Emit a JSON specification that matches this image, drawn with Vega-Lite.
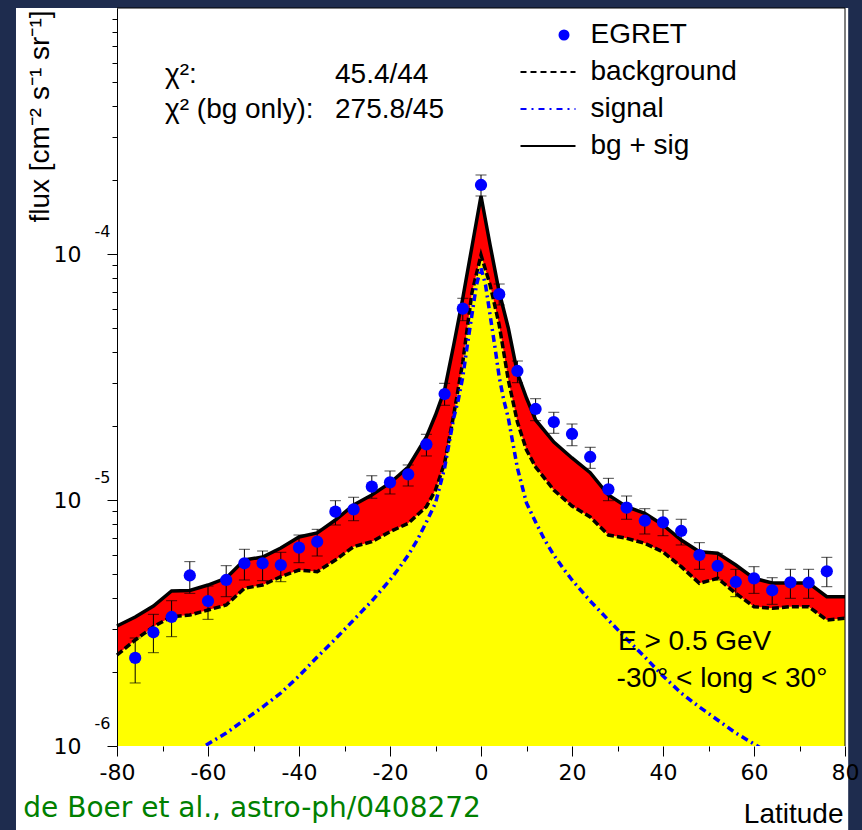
{
  "$schema": "https://vega.github.io/schema/vega-lite/v6.json",
  "width": 728,
  "height": 738,
  "autosize": "none",
  "padding": {"left": 117, "top": 8, "right": 17, "bottom": 84},
  "background": "#1e2c4e",
  "config": {
    "view": {"stroke": null},
    "font": "Liberation Sans",
    "legend": {
      "title": null, "orient": "none", "legendX": 402.5, "legendY": 12,
      "padding": 0, "labelFont": "Liberation Sans", "labelFontSize": 28, "labelColor": "black",
      "labelOffset": 43, "labelLimit": 400, "rowPadding": 7, "clipHeight": 30,
      "symbolSize": 3025, "symbolStrokeWidth": 2, "zindex": 1
    }
  },
  "datasets": {
    "egret": [
      {"lat": -76, "flux": 2.28e-6, "lo": 1.804e-6, "hi": 2.748e-6},
      {"lat": -72, "flux": 2.899e-6, "lo": 2.395e-6, "hi": 3.43e-6},
      {"lat": -68, "flux": 3.345e-6, "lo": 2.782e-6, "hi": 3.896e-6},
      {"lat": -64, "flux": 4.933e-6, "lo": 4.174e-6, "hi": 5.616e-6},
      {"lat": -60, "flux": 3.885e-6, "lo": 3.273e-6, "hi": 4.47e-6},
      {"lat": -56, "flux": 4.73e-6, "lo": 4.045e-6, "hi": 5.408e-6},
      {"lat": -52, "flux": 5.53e-6, "lo": 4.73e-6, "hi": 6.304e-6},
      {"lat": -48, "flux": 5.53e-6, "lo": 4.699e-6, "hi": 6.204e-6},
      {"lat": -44, "flux": 5.44e-6, "lo": 4.655e-6, "hi": 6.13e-6},
      {"lat": -40, "flux": 6.4e-6, "lo": 5.561e-6, "hi": 7.206e-6},
      {"lat": -36, "flux": 6.768e-6, "lo": 5.92e-6, "hi": 7.6e-6},
      {"lat": -32, "flux": 8.964e-6, "lo": 7.914e-6, "hi": 9.935e-6},
      {"lat": -28, "flux": 9.166e-6, "lo": 8.238e-6, "hi": 1.026e-5},
      {"lat": -24, "flux": 1.133e-5, "lo": 1.016e-5, "hi": 1.255e-5},
      {"lat": -20, "flux": 1.18e-5, "lo": 1.058e-5, "hi": 1.312e-5},
      {"lat": -16, "flux": 1.272e-5, "lo": 1.14e-5, "hi": 1.388e-5},
      {"lat": -12, "flux": 1.684e-5, "lo": 1.51e-5, "hi": 1.85e-5},
      {"lat": -8, "flux": 2.697e-5, "lo": 2.427e-5, "hi": 2.981e-5},
      {"lat": -4, "flux": 5.995e-5, "lo": 5.357e-5, "hi": 6.607e-5},
      {"lat": 0, "flux": 1.908e-4, "lo": 1.721e-4, "hi": 2.095e-4},
      {"lat": 4, "flux": 6.866e-5, "lo": 6.205e-5, "hi": 7.551e-5},
      {"lat": 8, "flux": 3.345e-5, "lo": 2.998e-5, "hi": 3.673e-5},
      {"lat": 12, "flux": 2.344e-5, "lo": 2.101e-5, "hi": 2.581e-5},
      {"lat": 16, "flux": 2.075e-5, "lo": 1.867e-5, "hi": 2.273e-5},
      {"lat": 20, "flux": 1.855e-5, "lo": 1.662e-5, "hi": 2.037e-5},
      {"lat": 24, "flux": 1.496e-5, "lo": 1.345e-5, "hi": 1.638e-5},
      {"lat": 28, "flux": 1.105e-5, "lo": 9.935e-6, "hi": 1.225e-5},
      {"lat": 32, "flux": 9.305e-6, "lo": 8.35e-6, "hi": 1.038e-5},
      {"lat": 36, "flux": 8.238e-6, "lo": 7.274e-6, "hi": 9.218e-6},
      {"lat": 40, "flux": 8.115e-6, "lo": 7.159e-6, "hi": 9.082e-6},
      {"lat": 44, "flux": 7.482e-6, "lo": 6.564e-6, "hi": 8.35e-6},
      {"lat": 48, "flux": 5.975e-6, "lo": 5.228e-6, "hi": 6.707e-6},
      {"lat": 52, "flux": 5.393e-6, "lo": 4.73e-6, "hi": 6.071e-6},
      {"lat": 56, "flux": 4.642e-6, "lo": 4.045e-6, "hi": 5.228e-6},
      {"lat": 60, "flux": 4.805e-6, "lo": 4.174e-6, "hi": 5.357e-6},
      {"lat": 64, "flux": 4.295e-6, "lo": 3.767e-6, "hi": 4.832e-6},
      {"lat": 68, "flux": 4.628e-6, "lo": 3.985e-6, "hi": 5.228e-6},
      {"lat": 72, "flux": 4.611e-6, "lo": 3.985e-6, "hi": 5.228e-6},
      {"lat": 76, "flux": 5.131e-6, "lo": 4.442e-6, "hi": 5.848e-6}
    ],
    "model": [
      {"lat": -80, "bg": 2.344e-6, "tot": 3.074e-6},
      {"lat": -76, "bg": 2.697e-6, "tot": 3.345e-6},
      {"lat": -72, "bg": 3.055e-6, "tot": 3.708e-6},
      {"lat": -68, "bg": 3.354e-6, "tot": 4.266e-6},
      {"lat": -64, "bg": 3.408e-6, "tot": 4.29e-6},
      {"lat": -60, "bg": 3.571e-6, "tot": 4.512e-6},
      {"lat": -56, "bg": 3.743e-6, "tot": 4.818e-6},
      {"lat": -52, "bg": 4.376e-6, "tot": 5.704e-6},
      {"lat": -48, "bg": 4.512e-6, "tot": 5.866e-6},
      {"lat": -44, "bg": 4.878e-6, "tot": 6.382e-6},
      {"lat": -40, "bg": 5.193e-6, "tot": 7.073e-6},
      {"lat": -36, "bg": 5.111e-6, "tot": 7.344e-6},
      {"lat": -32, "bg": 5.704e-6, "tot": 8.292e-6},
      {"lat": -28, "bg": 6.46e-6, "tot": 9.544e-6},
      {"lat": -24, "bg": 6.768e-6, "tot": 1.048e-5},
      {"lat": -20, "bg": 7.432e-6, "tot": 1.173e-5},
      {"lat": -16, "bg": 8.04e-6, "tot": 1.362e-5},
      {"lat": -12, "bg": 9.393e-6, "tot": 1.804e-5},
      {"lat": -10, "bg": 1.098e-5, "tot": 2.215e-5},
      {"lat": -8, "bg": 1.414e-5, "tot": 2.801e-5},
      {"lat": -6, "bg": 2.215e-5, "tot": 4.266e-5},
      {"lat": -4, "bg": 3.639e-5, "tot": 6.625e-5},
      {"lat": -2, "bg": 6.943e-5, "tot": 1.068e-4},
      {"lat": 0, "bg": 9.906e-5, "tot": 1.721e-4},
      {"lat": 2, "bg": 7.482e-5, "tot": 1.088e-4},
      {"lat": 4, "bg": 5.146e-5, "tot": 7.007e-5},
      {"lat": 6, "bg": 3.074e-5, "tot": 5.004e-5},
      {"lat": 8, "bg": 2.075e-5, "tot": 3.283e-5},
      {"lat": 10, "bg": 1.597e-5, "tot": 2.598e-5},
      {"lat": 12, "bg": 1.362e-5, "tot": 2.115e-5},
      {"lat": 16, "bg": 1.098e-5, "tot": 1.721e-5},
      {"lat": 20, "bg": 9.454e-6, "tot": 1.482e-5},
      {"lat": 24, "bg": 8.53e-6, "tot": 1.291e-5},
      {"lat": 28, "bg": 7.206e-6, "tot": 1.048e-5},
      {"lat": 32, "bg": 6.987e-6, "tot": 9.393e-6},
      {"lat": 36, "bg": 6.668e-6, "tot": 8.829e-6},
      {"lat": 40, "bg": 6.146e-6, "tot": 7.914e-6},
      {"lat": 44, "bg": 5.357e-6, "tot": 6.877e-6},
      {"lat": 48, "bg": 4.585e-6, "tot": 6.163e-6},
      {"lat": 52, "bg": 4.805e-6, "tot": 6.071e-6},
      {"lat": 56, "bg": 4.174e-6, "tot": 5.44e-6},
      {"lat": 60, "bg": 3.684e-6, "tot": 4.805e-6},
      {"lat": 64, "bg": 3.629e-6, "tot": 4.598e-6},
      {"lat": 68, "bg": 3.684e-6, "tot": 4.598e-6},
      {"lat": 72, "bg": 3.684e-6, "tot": 4.598e-6},
      {"lat": 76, "bg": 3.252e-6, "tot": 4.045e-6},
      {"lat": 80, "bg": 3.305e-6, "tot": 4.045e-6}
    ],
    "signal": [
      {"lat": -80, "flux": 6.32e-7}, {"lat": -76, "flux": 6.94e-7}, {"lat": -72, "flux": 7.55e-7},
      {"lat": -68, "flux": 8.29e-7}, {"lat": -64, "flux": 9.19e-7}, {"lat": -60, "flux": 1.019e-6},
      {"lat": -56, "flux": 1.129e-6}, {"lat": -52, "flux": 1.276e-6}, {"lat": -48, "flux": 1.44e-6},
      {"lat": -44, "flux": 1.642e-6}, {"lat": -40, "flux": 1.926e-6}, {"lat": -36, "flux": 2.3e-6},
      {"lat": -32, "flux": 2.723e-6}, {"lat": -28, "flux": 3.252e-6}, {"lat": -24, "flux": 3.885e-6},
      {"lat": -20, "flux": 4.73e-6}, {"lat": -18, "flux": 5.29e-6}, {"lat": -16, "flux": 5.975e-6},
      {"lat": -14, "flux": 6.877e-6}, {"lat": -12, "flux": 8.139e-6}, {"lat": -10, "flux": 9.723e-6},
      {"lat": -8, "flux": 1.349e-5}, {"lat": -6, "flux": 2.154e-5}, {"lat": -5, "flux": 2.55e-5},
      {"lat": -4, "flux": 3.162e-5}, {"lat": -3, "flux": 4.266e-5}, {"lat": -2, "flux": 5.649e-5},
      {"lat": -1, "flux": 7.482e-5}, {"lat": 0, "flux": 8.772e-5}, {"lat": 1, "flux": 7.482e-5},
      {"lat": 2, "flux": 5.649e-5}, {"lat": 3, "flux": 4.266e-5}, {"lat": 4, "flux": 3.162e-5},
      {"lat": 5, "flux": 2.55e-5}, {"lat": 6, "flux": 2.154e-5}, {"lat": 8, "flux": 1.349e-5},
      {"lat": 10, "flux": 9.723e-6}, {"lat": 12, "flux": 8.139e-6}, {"lat": 14, "flux": 6.877e-6},
      {"lat": 16, "flux": 5.975e-6}, {"lat": 18, "flux": 5.29e-6}, {"lat": 20, "flux": 4.73e-6},
      {"lat": 24, "flux": 3.885e-6}, {"lat": 28, "flux": 3.252e-6}, {"lat": 32, "flux": 2.723e-6},
      {"lat": 36, "flux": 2.3e-6}, {"lat": 40, "flux": 1.926e-6}, {"lat": 44, "flux": 1.642e-6},
      {"lat": 48, "flux": 1.44e-6}, {"lat": 52, "flux": 1.276e-6}, {"lat": 56, "flux": 1.129e-6},
      {"lat": 60, "flux": 1.019e-6}, {"lat": 64, "flux": 9.19e-7}, {"lat": 68, "flux": 8.29e-7},
      {"lat": 72, "flux": 7.55e-7}, {"lat": 76, "flux": 6.94e-7}, {"lat": 80, "flux": 6.32e-7}
    ],
    "exponents": [
      {"v": 1e-6, "e": "-6"},
      {"v": 1e-5, "e": "-5"},
      {"v": 1e-4, "e": "-4"}
    ]
  },
  "layer": [
    {
      "data": {"values": [{}]},
      "mark": {"type": "rect", "color": "white"},
      "encoding": {
        "x": {"datum": -102.2, "type": "quantitative",
          "scale": {"domain": [-80, 80], "nice": false, "zero": false},
          "axis": {
            "title": "Latitude",
            "values": [-80,-75,-70,-65,-60,-55,-50,-45,-40,-35,-30,-25,-20,-15,-10,-5,0,5,10,15,20,25,30,35,40,45,50,55,60,65,70,75,80],
            "labelExpr": "datum.value % 20 === 0 ? '' + datum.value : ''",
            "tickSize": {"condition": {"test": "datum.value % 20 === 0", "value": 10}, "value": 5},
            "tickColor": "black", "tickWidth": 1,
            "domain": false, "grid": false,
            "labelFont": "DejaVu Sans", "labelFontSize": 22, "labelColor": "black",
            "labelPadding": 6, "labelFlush": false, "labelOverlap": false, "labelBound": false,
            "titleFont": "Liberation Sans", "titleFontSize": 28, "titleFontWeight": "normal", "titleColor": "black",
            "titleAlign": "right", "titleBaseline": "alphabetic", "titleX": 726, "titleY": 76,
            "zindex": 1
          }
        },
        "x2": {"datum": 80.7},
        "y": {"datum": 0.001, "type": "quantitative",
          "title": "flux [cm⁻² s⁻¹ sr⁻¹]",
          "scale": {"type": "log", "domain": [1e-6, 1e-3], "nice": false},
          "axis": {
            "title": "flux [cm⁻² s⁻¹ sr⁻¹]",
            "values": [1e-6,2e-6,3e-6,4e-6,5e-6,6e-6,7e-6,8e-6,9e-6,1e-5,2e-5,3e-5,4e-5,5e-5,6e-5,7e-5,8e-5,9e-5,1e-4,2e-4,3e-4,4e-4,5e-4,6e-4,7e-4,8e-4,9e-4],
            "labelExpr": "datum.value === 1e-6 || datum.value === 1e-5 || datum.value === 1e-4 ? '10' : ''",
            "tickSize": {"condition": {"test": "datum.value === 1e-6 || datum.value === 1e-5 || datum.value === 1e-4", "value": 10}, "value": 5},
            "tickColor": "black", "tickWidth": 1,
            "domain": true, "domainColor": "black", "domainWidth": 1, "grid": false,
            "labelFont": "DejaVu Sans", "labelFontSize": 22, "labelColor": "black",
            "labelPadding": 26, "labelOverlap": false, "labelBound": false, "labelFlush": false,
            "titleFont": "Liberation Sans", "titleFontSize": 28, "titleFontWeight": "normal", "titleColor": "black",
            "titleAngle": -90, "titleAlign": "right", "titleBaseline": "alphabetic", "titleX": -69, "titleY": 2,
            "zindex": 1
          }
        },
        "y2": {"datum": 4.5e-7}
      }
    },
    {
      "data": {"name": "model"},
      "mark": {"type": "area", "color": "#ffff00", "opacity": 1},
      "encoding": {
        "x": {"field": "lat", "type": "quantitative"},
        "y": {"field": "bg", "type": "quantitative", "title": "flux [cm⁻² s⁻¹ sr⁻¹]"},
        "y2": {"datum": 1e-6}
      }
    },
    {
      "data": {"name": "model"},
      "mark": {"type": "area", "color": "#ff0000", "opacity": 1},
      "encoding": {
        "x": {"field": "lat", "type": "quantitative"},
        "y": {"field": "tot", "type": "quantitative", "title": "flux [cm⁻² s⁻¹ sr⁻¹]"},
        "y2": {"field": "bg"}
      }
    },
    {
      "data": {"name": "model"},
      "mark": {"type": "line", "strokeWidth": 3.5, "strokeDash": [7, 3]},
      "encoding": {
        "x": {"field": "lat", "type": "quantitative"},
        "y": {"field": "bg", "type": "quantitative", "title": "flux [cm⁻² s⁻¹ sr⁻¹]"},
        "color": {
          "datum": "background",
          "scale": {"domain": ["EGRET", "background", "signal", "bg + sig"], "range": ["#0000ff", "#000000", "#0000ff", "#000000"]},
          "legend": {
            "encode": {
              "symbols": {
                "update": {
                  "shape": {"signal": "datum.value === 'EGRET' ? 'circle' : 'stroke'"},
                  "size": {"signal": "datum.value === 'EGRET' ? 121 : 3025"},
                  "fill": {"signal": "datum.value === 'EGRET' ? '#0000ff' : 'transparent'"},
                  "stroke": {"signal": "datum.value === 'signal' ? '#0000ff' : (datum.value === 'EGRET' ? 'transparent' : '#000000')"},
                  "strokeWidth": {"signal": "datum.value === 'EGRET' ? 0 : 2"},
                  "strokeDash": {"signal": "datum.value === 'background' ? [6, 4] : (datum.value === 'signal' ? [6, 5, 2, 5] : [1, 0])"},
                  "x": {"signal": "datum.value === 'EGRET' ? 44.5 : 28.5"},
                  "opacity": {"value": 1}
                }
              }
            }
          }
        }
      }
    },
    {
      "data": {"name": "signal"},
      "mark": {"type": "line", "strokeWidth": 3.5, "strokeDash": [7, 4, 2, 4], "clip": true},
      "encoding": {
        "x": {"field": "lat", "type": "quantitative"},
        "y": {"field": "flux", "type": "quantitative", "title": "flux [cm⁻² s⁻¹ sr⁻¹]"},
        "color": {"datum": "signal"}
      }
    },
    {
      "data": {"name": "model"},
      "mark": {"type": "line", "strokeWidth": 3.5},
      "encoding": {
        "x": {"field": "lat", "type": "quantitative"},
        "y": {"field": "tot", "type": "quantitative", "title": "flux [cm⁻² s⁻¹ sr⁻¹]"},
        "color": {"datum": "bg + sig"}
      }
    },
    {
      "data": {"name": "egret"},
      "mark": {"type": "errorbar", "color": "black", "thickness": 1, "ticks": {"size": 11, "thickness": 1, "color": "black"}},
      "encoding": {
        "x": {"field": "lat", "type": "quantitative"},
        "y": {"field": "lo", "type": "quantitative", "title": "flux [cm⁻² s⁻¹ sr⁻¹]"},
        "y2": {"field": "hi"}
      }
    },
    {
      "data": {"name": "egret"},
      "mark": {"type": "point", "shape": "circle", "filled": true, "size": 150, "opacity": 1},
      "encoding": {
        "x": {"field": "lat", "type": "quantitative"},
        "y": {"field": "flux", "type": "quantitative", "title": "flux [cm⁻² s⁻¹ sr⁻¹]"},
        "color": {"datum": "EGRET"}
      }
    },
    {
      "data": {"name": "exponents"},
      "mark": {"type": "text", "font": "DejaVu Sans", "fontSize": 16, "align": "center", "baseline": "middle", "dx": -14.5, "dy": -22, "color": "black"},
      "encoding": {
        "x": {"datum": -80},
        "y": {"field": "v", "type": "quantitative", "title": "flux [cm⁻² s⁻¹ sr⁻¹]"},
        "text": {"field": "e"}
      }
    },
    {
      "data": {"values": [{}]},
      "mark": {"type": "rule", "color": "black", "strokeWidth": 1},
      "encoding": {"x": {"datum": -80}, "x2": {"datum": 80}, "y": {"datum": 0.001}}
    },
    {
      "data": {"values": [{}]},
      "mark": {"type": "rule", "color": "black", "strokeWidth": 1},
      "encoding": {"x": {"datum": 80}, "y": {"datum": 1e-6}, "y2": {"datum": 0.001}}
    },
    {
      "data": {"values": [{}]},
      "mark": {"type": "text", "text": "χ²:", "font": "Liberation Sans", "fontSize": 28, "align": "left", "baseline": "alphabetic", "color": "black"},
      "encoding": {"x": {"datum": -69.45}, "y": {"datum": 4.955e-4}}
    },
    {
      "data": {"values": [{}]},
      "mark": {"type": "text", "text": "χ² (bg only):", "font": "Liberation Sans", "fontSize": 28, "align": "left", "baseline": "alphabetic", "color": "black"},
      "encoding": {"x": {"datum": -69.45}, "y": {"datum": 3.571e-4}}
    },
    {
      "data": {"values": [{}]},
      "mark": {"type": "text", "text": "45.4/44", "font": "Liberation Sans", "fontSize": 28, "align": "left", "baseline": "alphabetic", "color": "black"},
      "encoding": {"x": {"datum": -32.09}, "y": {"datum": 4.955e-4}}
    },
    {
      "data": {"values": [{}]},
      "mark": {"type": "text", "text": "275.8/45", "font": "Liberation Sans", "fontSize": 28, "align": "left", "baseline": "alphabetic", "color": "black"},
      "encoding": {"x": {"datum": -32.09}, "y": {"datum": 3.571e-4}}
    },
    {
      "data": {"values": [{}]},
      "mark": {"type": "text", "text": "E > 0.5 GeV", "font": "Liberation Sans", "fontSize": 28, "align": "left", "baseline": "alphabetic", "color": "black"},
      "encoding": {"x": {"datum": 30.1}, "y": {"datum": 2.456e-6}}
    },
    {
      "data": {"values": [{}]},
      "mark": {"type": "text", "text": "-30° < long < 30°", "font": "Liberation Sans", "fontSize": 28, "align": "left", "baseline": "alphabetic", "color": "black"},
      "encoding": {"x": {"datum": 29.8}, "y": {"datum": 1.742e-6}}
    },
    {
      "data": {"values": [{}]},
      "mark": {"type": "text", "text": "de Boer et al., astro-ph/0408272", "font": "DejaVu Sans", "fontSize": 28, "align": "left", "baseline": "alphabetic", "color": "#008000"},
      "encoding": {"x": {"datum": -100.6}, "y": {"datum": 5.16e-7}}
    }
  ]
}
